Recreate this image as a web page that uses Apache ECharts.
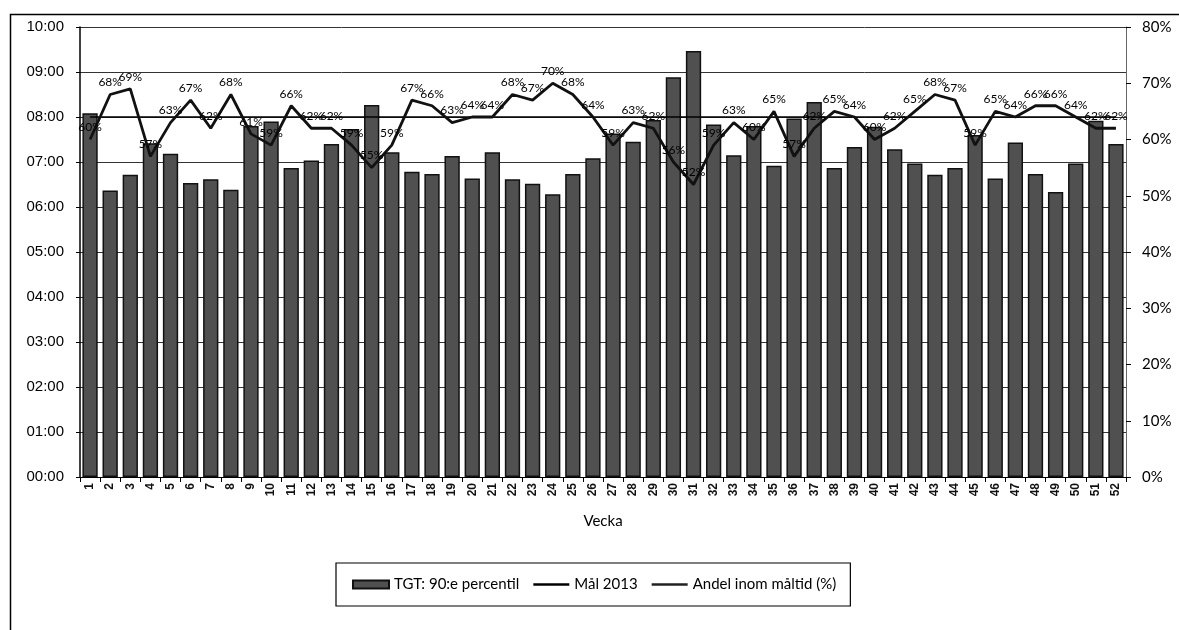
<!DOCTYPE html>
<html>
<head>
<meta charset="utf-8">
<script src="https://cdn.jsdelivr.net/npm/echarts@6/dist/echarts.min.js"></script>
<style>
html,body{margin:0;padding:0;background:#fff;}
#c{width:1179px;height:630px;}
</style>
</head>
<body>
<div id="c"></div>
<script>
// Weeks (Vecka)
var weeks = [];
for (var w = 1; w <= 52; w++) weeks.push(String(w));

// TGT: 90:e percentil, in minutes
var tgtMinutes = [485,382,403,445,431,392,397,383,468,474,412,422,444,464,496,433,407,404,428,398,
                  433,397,391,377,404,425,458,447,476,533,568,470,429,468,415,478,500,412,440,467,
                  437,418,403,412,456,398,446,404,380,418,475,444];

// Mål 2013, in minutes (08:00)
var malMinutes = [480,480,480,480,480,480,480,480,480,480,480,480,480,480,480,480,480,480,480,480,
                  480,480,480,480,480,480,480,480,480,480,480,480,480,480,480,480,480,480,480,480,
                  480,480,480,480,480,480,480,480,480,480,480,480];

// Andel inom måltid (%)
var andelPct = [60,68,69,57,63,67,62,68,61,59,66,62,62,59,55,59,67,66,63,64,
                64,68,67,70,68,64,59,63,62,56,52,59,63,60,65,57,62,65,64,60,
                62,65,68,67,59,65,64,66,66,64,62,62];

// Axis tick settings
var leftMin = 0, leftMax = 600, leftStep = 60;
var rightMin = 0, rightMax = 80, rightStep = 10;

var seriesNames = ['TGT: 90:e percentil', 'Mål 2013', 'Andel inom måltid (%)'];

function hhmm(v){
  var h = Math.round(v/60);
  return (h < 10 ? '0' : '') + h + ':00';
}

var lineIcon = 'path://M0,0H40V3H0Z';

var chart = echarts.init(document.getElementById('c'));
chart.setOption({
  animation: false,
  backgroundColor: '#fff',
  graphic: [{
    type: 'rect',
    left: 8, top: 12,
    shape: {width: 1400, height: 800},
    style: {fill: 'none', stroke: '#000', lineWidth: 1.5},
    silent: true
  }],
  grid: {left: 80, right: 53, top: 27, bottom: 153, containLabel: false},
  legend: {
    data: [
      {name: seriesNames[0], icon: 'rect'},
      {name: seriesNames[1], icon: lineIcon},
      {name: seriesNames[2], icon: lineIcon}
    ],
    left: 336, top: 563,
    padding: [14, 14, 14, 16],
    itemGap: 14,
    itemWidth: 36, itemHeight: 8,
    borderColor: '#000', borderWidth: 1.2,
    textStyle: {fontFamily: 'Lato', fontSize: 15, color: '#000'}
  },
  xAxis: {
    type: 'category',
    data: weeks,
    name: 'Vecka',
    nameLocation: 'middle',
    nameGap: 37,
    nameTextStyle: {fontFamily: 'Lato', fontSize: 15, color: '#000'},
    axisLine: {lineStyle: {color: '#000', width: 1.2}},
    axisTick: {show: true, length: 5, lineStyle: {color: '#000'}},
    axisLabel: {rotate: 90, fontFamily: 'Liberation Sans', fontSize: 12, fontWeight: 'bold', color: '#111', interval: 0, margin: 6}
  },
  yAxis: [{
    type: 'value',
    min: leftMin, max: leftMax, interval: leftStep,
    axisLine: {show: true, lineStyle: {color: '#000', width: 1.5}},
    axisTick: {show: true, length: 4, lineStyle: {color: '#000'}},
    axisLabel: {formatter: hhmm, fontFamily: 'Liberation Sans', fontSize: 15, color: '#000', margin: 16},
    splitLine: {show: true, lineStyle: {color: '#333', width: 1}}
  }, {
    type: 'value',
    min: rightMin, max: rightMax, interval: rightStep,
    position: 'right',
    axisLine: {show: true, lineStyle: {color: '#666', width: 1}},
    axisTick: {show: true, length: 5, lineStyle: {color: '#000'}},
    axisLabel: {formatter: '{value}%', fontFamily: 'Lato', fontSize: 15, color: '#000', margin: 16},
    splitLine: {show: false}
  }],
  series: [{
    name: seriesNames[0],
    type: 'bar',
    yAxisIndex: 0,
    data: tgtMinutes,
    barCategoryGap: '24%',
    itemStyle: {color: '#505050', borderColor: '#111', borderWidth: 1.5},
    z: 2
  }, {
    name: seriesNames[1],
    type: 'line',
    yAxisIndex: 0,
    data: malMinutes,
    symbol: 'none',
    lineStyle: {color: '#000', width: 1.5},
    itemStyle: {color: '#000'},
    z: 3
  }, {
    name: seriesNames[2],
    type: 'line',
    yAxisIndex: 1,
    data: andelPct,
    symbol: 'circle',
    symbolSize: 0.01,
    showSymbol: true,
    lineStyle: {color: '#111', width: 2.8},
    itemStyle: {color: '#222'},
    label: {
      show: true, position: 'top', distance: 6,
      formatter: '{c}%',
      fontFamily: 'Lato', fontSize: 12, color: '#000'
    },
    labelLayout: {hideOverlap: false},
    z: 4
  }]
});
</script>
</body>
</html>
